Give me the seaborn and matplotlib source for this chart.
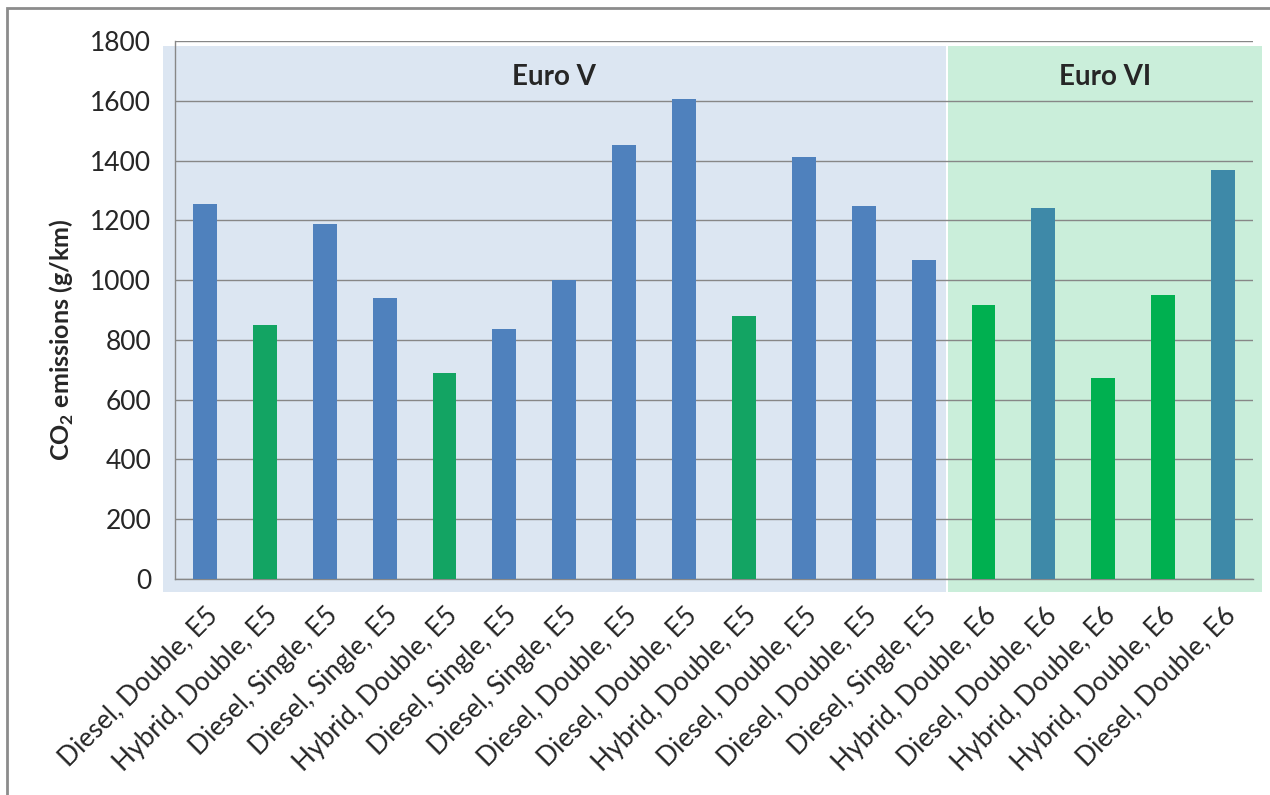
import numpy as np
import pandas as pd
import matplotlib.pyplot as plt
from matplotlib.patches import Rectangle
import seaborn as sns

labels = ["Diesel, Double, E5", "Hybrid, Double, E5", "Diesel, Single, E5",
          "Diesel, Single, E5", "Hybrid, Double, E5", "Diesel, Single, E5",
          "Diesel, Single, E5", "Diesel, Double, E5", "Diesel, Double, E5",
          "Hybrid, Double, E5", "Diesel, Double, E5", "Diesel, Double, E5",
          "Diesel, Single, E5", "Hybrid, Double, E6", "Diesel, Double, E6",
          "Hybrid, Double, E6", "Hybrid, Double, E6", "Diesel, Double, E6"]
co2 = [1255, 850, 1188, 940, 689, 836, 1000, 1452, 1606, 880, 1412, 1248,
       1067, 917, 1241, 672, 950, 1368]
groups = ["Euro V", "Euro VI"]
group_sizes = [13, 5]

kind = [l.split(",")[0] + " " + l.split(",")[-1].strip() for l in labels]
palette = {"Diesel E5": "#4F81BD", "Hybrid E5": "#13A463",
           "Hybrid E6": "#00B050", "Diesel E6": "#3E89A8"}
bg_colors = ["#DCE6F2", "#CAEEDA"]

df = pd.DataFrame({"pos": np.arange(len(labels)), "co2": co2, "kind": kind})

sns.set_style("white")
plt.rcParams["font.family"] = ["Lato", "DejaVu Sans"]
plt.rcParams["mathtext.fontset"] = "custom"
plt.rcParams["mathtext.rm"] = "Lato"
plt.rcParams["mathtext.bf"] = "Lato:bold"

fig = plt.figure(figsize=(12.7, 7.95), dpi=100)
ax = fig.add_axes([175 / 1270, 1 - 579 / 795, (1253 - 175) / 1270, (579 - 41) / 795])
ax.set_facecolor("none")

# shaded regions behind the bars (slightly wider than the axes)
pad_l = [0.2, 0.09]
pad_r = [-0.13, 0.15]
start = -0.5
for g, n, c, pl, pr in zip(groups, group_sizes, bg_colors, pad_l, pad_r):
    x0 = start - pl
    x1 = start + n + pr
    ax.add_patch(Rectangle((x0, -43), x1 - x0, 1783 + 43, facecolor=c,
                           edgecolor="none", zorder=0, clip_on=False))
    ax.text((x0 + x1) / 2, 1680, g, ha="center", va="center",
            fontsize=20, fontweight="bold", zorder=4)
    start += n

sns.barplot(data=df, x="pos", y="co2", hue="kind", palette=palette,
            width=0.4, saturation=1, legend=False, linewidth=0, ax=ax, zorder=3)

ax.set_ylim(0, 1800)
ax.set_xlim(-0.5, len(labels) - 0.5)
ax.set_yticks(np.arange(0, 1801, 200))
ax.yaxis.grid(True, color="#878787", lw=1)
ax.set_axisbelow(False)
for l in ax.get_ygridlines():
    l.set_zorder(1)

ax.set_xticks(np.arange(len(labels)))
ax.set_xticklabels(labels, rotation=45, ha="right", rotation_mode="anchor")
ax.set_xticks(np.arange(-0.5, len(labels)), minor=True)
ax.tick_params(axis="x", which="major", length=0, pad=17, labelsize=19)
ax.tick_params(axis="x", which="minor", length=6.5, color="#878787", width=1)
ax.tick_params(axis="y", length=7, color="#878787", width=1, pad=10, labelsize=19)

for s in ["top", "right"]:
    ax.spines[s].set_visible(False)
for s in ["left", "bottom"]:
    ax.spines[s].set_color("#878787")
    ax.spines[s].set_linewidth(1)
    ax.spines[s].set_zorder(2)

ax.set_xlabel("")
ax.set_ylabel("")
fig.text(62 / 1270, 1 - 340 / 795, r"CO$_{\mathbf{2}}$ emissions (g/km)",
         rotation=90, ha="center", va="center", fontsize=18, fontweight="bold")

# outer frame
fig.add_artist(Rectangle((7 / 1270, -0.1), 2, 1 - 8 / 795 + 0.1,
                         transform=fig.transFigure, fill=False,
                         edgecolor="#8C8C8C", lw=2))

fig.savefig("out.png", dpi=100)
